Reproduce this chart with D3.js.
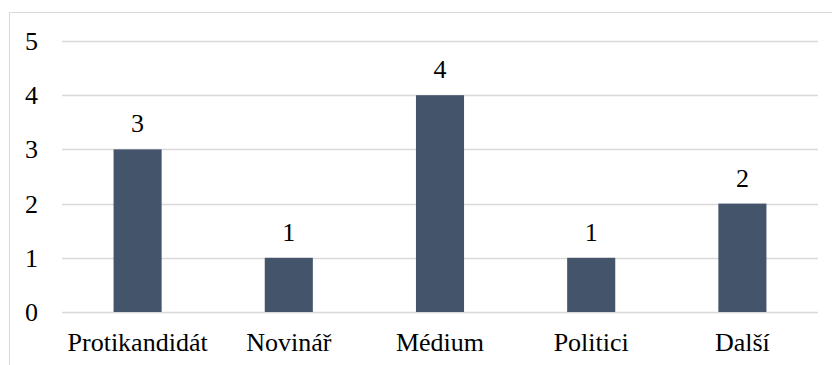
<!DOCTYPE html>
<html>
<head>
<meta charset="utf-8">
<script src="https://cdn.jsdelivr.net/npm/d3@7"></script>
</head>
<body style="margin:0">
<svg id="chart" width="832" height="365" style="display:block"></svg>
<script>
const categories = ["Protikandidát", "Novinář", "Médium", "Politici", "Další"];
const values = [3, 1, 4, 1, 2];
const yTicks = [0, 1, 2, 3, 4, 5];

const W = 832, H = 365;
const margin = { left: 62, right: 14, top: 41, bottom: 53 };
const FONT = "Liberation Serif";
const FONT_SIZE = 26;

const svg = d3.select("#chart");

// chart area frame (extends past the right and bottom edges)
svg.append("rect")
  .attr("x", 9.5).attr("y", 12.5)
  .attr("width", W).attr("height", H)
  .attr("fill", "none").attr("stroke", "#d9d9d9").attr("stroke-width", 1);

const x = d3.scaleBand()
  .domain(categories)
  .range([margin.left, W - margin.right])
  .paddingInner(0.682)
  .paddingOuter(0.341);

const y = d3.scaleLinear()
  .domain([0, 5])
  .range([H - margin.bottom, margin.top]);

// horizontal gridlines
svg.append("g")
  .selectAll("line")
  .data(yTicks)
  .join("line")
  .attr("x1", margin.left).attr("x2", W - margin.right)
  .attr("y1", d => Math.round(y(d)) + 0.5).attr("y2", d => Math.round(y(d)) + 0.5)
  .attr("stroke", "#d9d9d9").attr("stroke-width", 1.3);

// bars
svg.append("g")
  .selectAll("rect")
  .data(categories)
  .join("rect")
  .attr("x", d => x(d))
  .attr("width", x.bandwidth())
  .attr("y", (d, i) => y(values[i]))
  .attr("height", (d, i) => y(0) - y(values[i]))
  .attr("fill", "#44546a");

// left-aligned text helper: anchor computed from measured width
function label(g, tx, ty, str, align) {
  const t = g.append("text")
    .attr("font-family", FONT).attr("font-size", FONT_SIZE)
    .attr("fill", "#000")
    .attr("y", ty)
    .text(str);
  const w = t.node().getComputedTextLength();
  const shift = align === "middle" ? w / 2 : align === "end" ? w : 0;
  t.attr("x", tx - shift);
  return t;
}

// y axis labels
const gy = svg.append("g");
yTicks.forEach(v => label(gy, margin.left - 24, y(v) + 9, d3.format("d")(v), "end"));

// value labels
const gv = svg.append("g");
categories.forEach((c, i) => label(gv, x(c) + x.bandwidth() / 2, y(values[i]) - 17, String(values[i]), "middle"));

// category labels
const gx = svg.append("g");
categories.forEach(c => label(gx, x(c) + x.bandwidth() / 2, y(0) + 39, c, "middle"));
</script>
</body>
</html>
